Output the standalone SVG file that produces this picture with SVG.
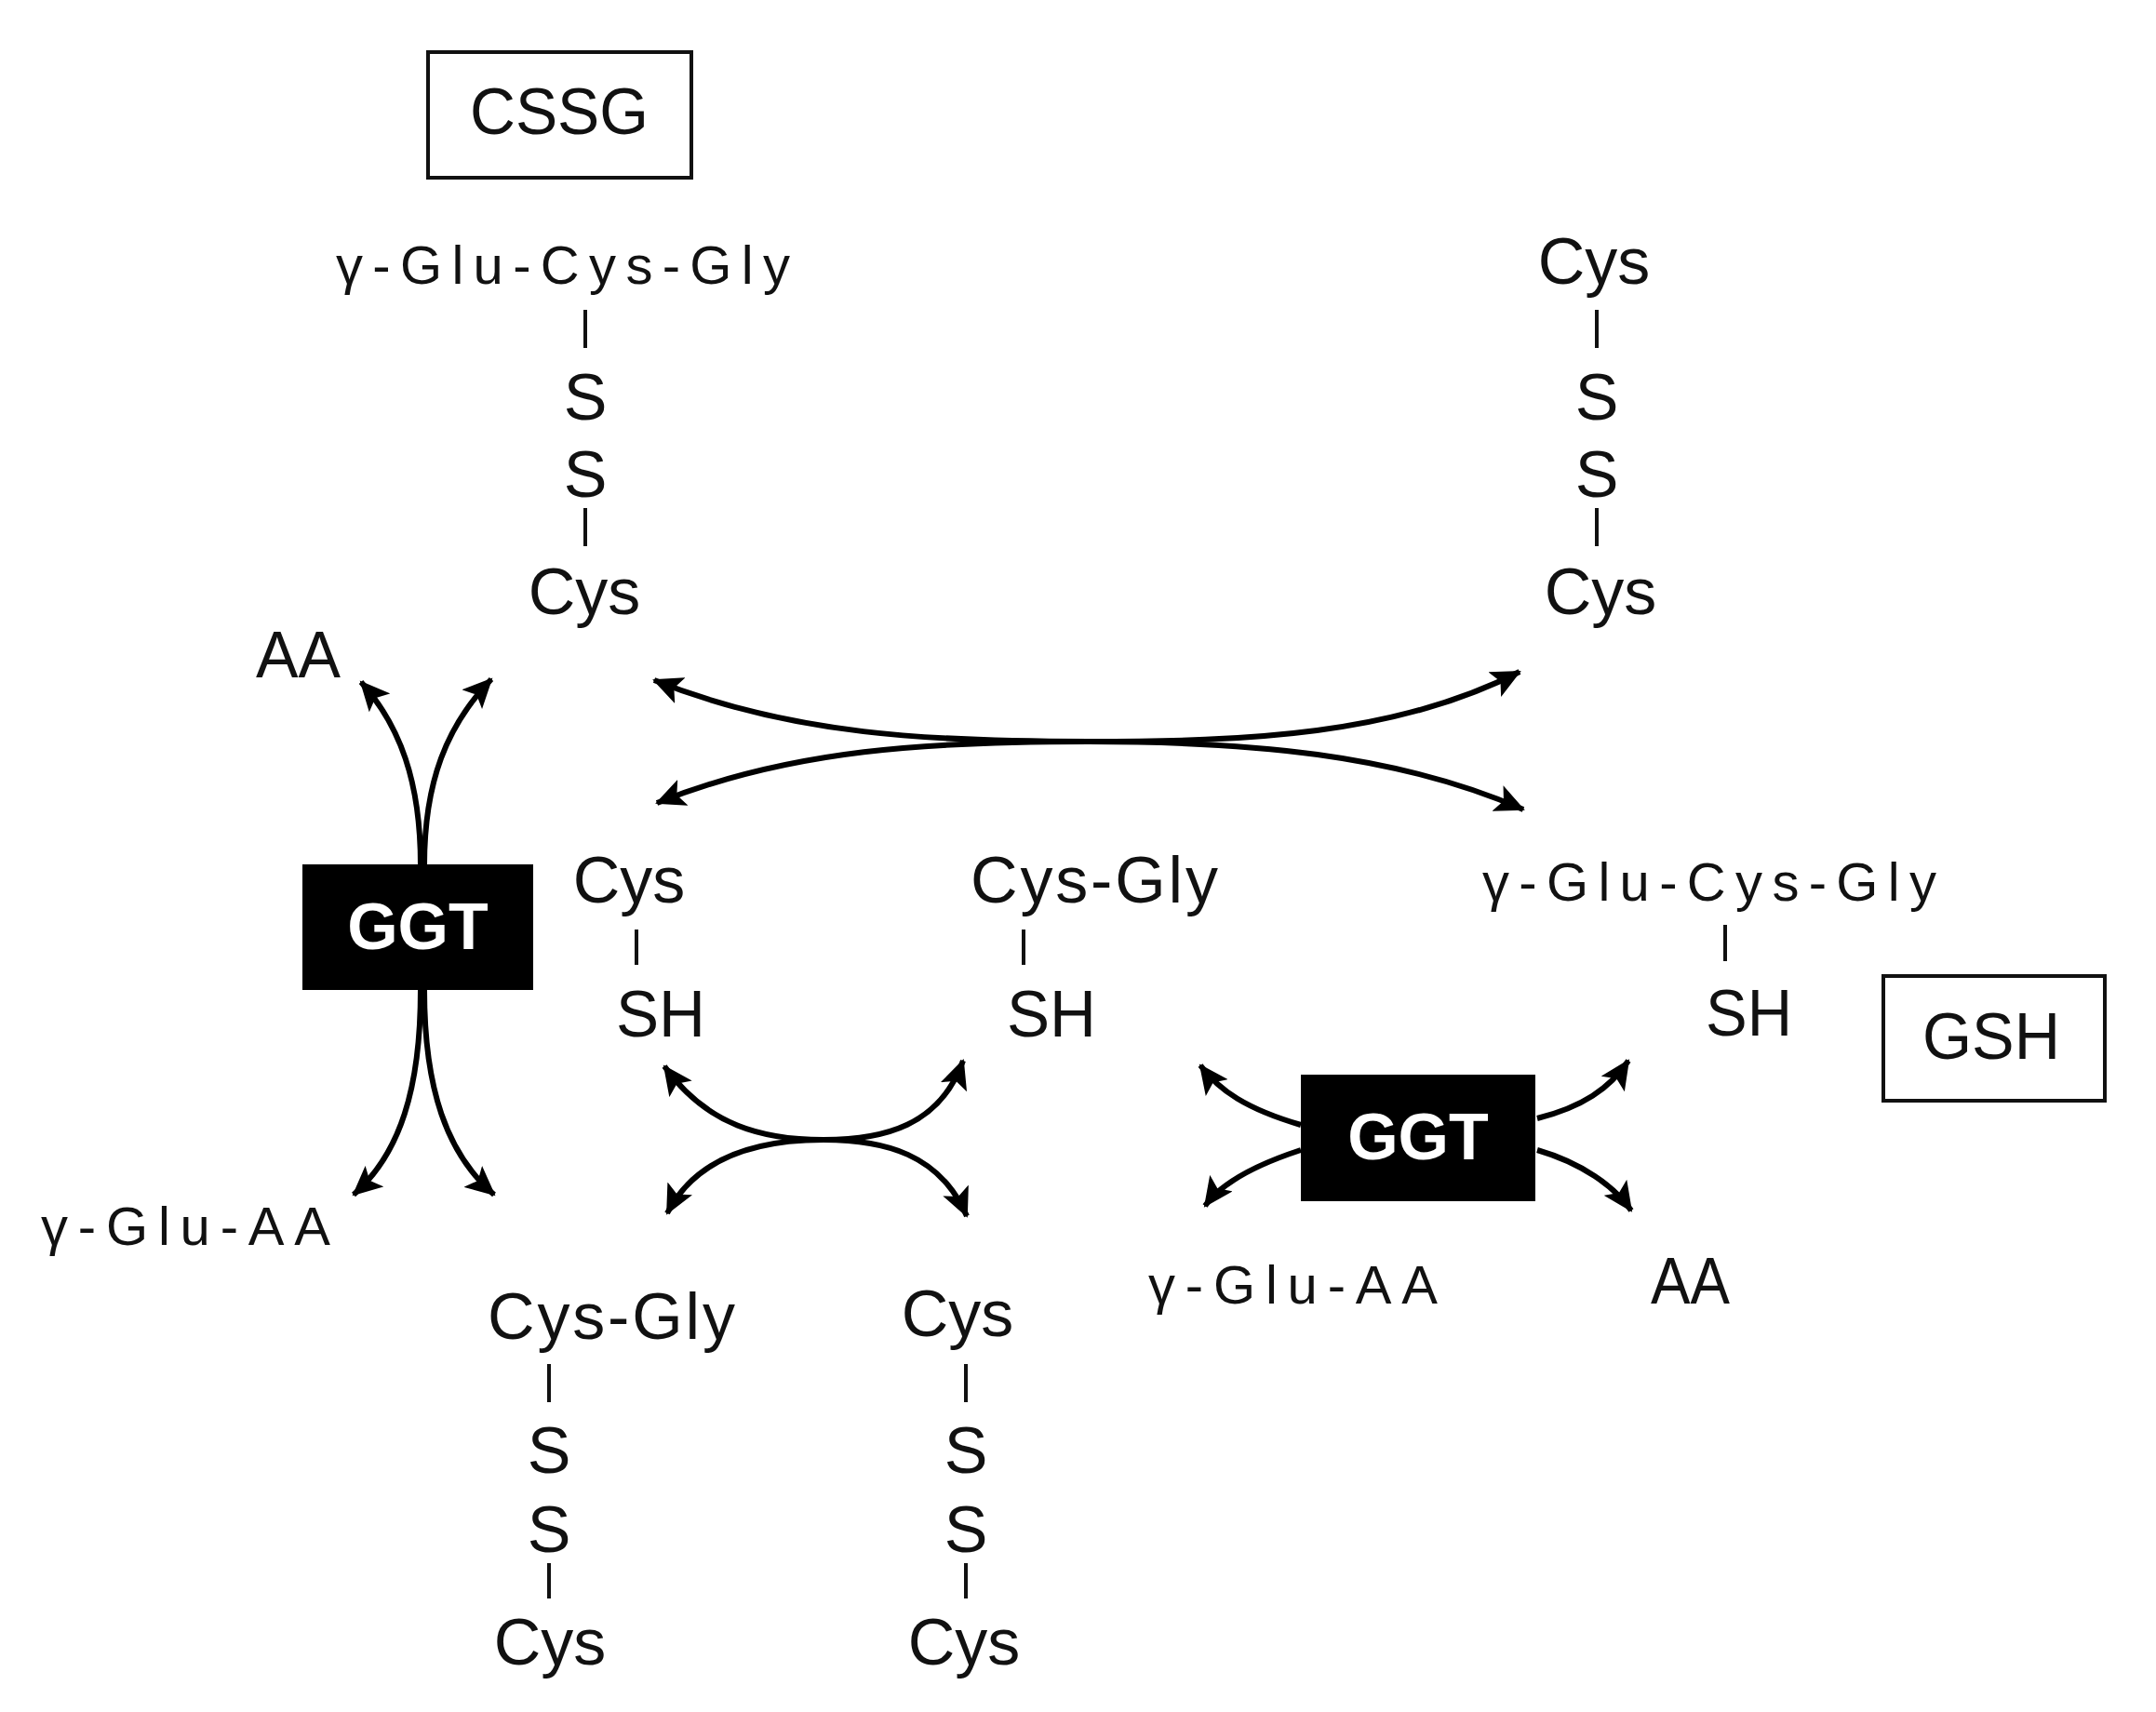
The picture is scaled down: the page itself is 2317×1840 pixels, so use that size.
<svg xmlns="http://www.w3.org/2000/svg" width="2317" height="1840" viewBox="0 0 2317 1840">
<style>
text{font-family:"Liberation Sans",Arial,sans-serif;fill:#111;font-size:70px}
.s{font-size:58px}
.g{font-family:"Liberation Sans",Arial,sans-serif;font-weight:bold;fill:#fff;font-size:70px}
.bar{stroke:#111;stroke-width:4}
.box{fill:#fff;stroke:#111;stroke-width:4}
.arr{fill:none;stroke:#000;stroke-width:6;marker-end:url(#ah)}
.dbl{fill:none;stroke:#000;stroke-width:6;marker-start:url(#ah);marker-end:url(#ah)}
</style>
<defs>
<marker id="ah" markerUnits="userSpaceOnUse" markerWidth="34" markerHeight="30" refX="30" refY="15" orient="auto-start-reverse">
<path d="M0,0 L32,15 L0,30 L7,15 Z" fill="#000"/>
</marker>
</defs>
<g id="cssg-label"><rect class="box" x="460" y="56" width="283" height="135"/><text x="601" y="144" text-anchor="middle" font-size="74" textLength="192" lengthAdjust="spacingAndGlyphs">CSSG</text></g>
<g id="cssg">
<text class="s" x="361" y="305" textLength="488" lengthAdjust="spacing">γ-Glu-Cys-Gly</text>
<line class="bar" x1="629" y1="333" x2="629" y2="374"/>
<text x="629" y="451" text-anchor="middle">S</text>
<text x="629" y="534" text-anchor="middle">S</text>
<line class="bar" x1="629" y1="546" x2="629" y2="587"/>
<text x="628" y="660" text-anchor="middle">Cys</text>
</g>
<g id="cystine-top">
<text x="1713" y="305" text-anchor="middle">Cys</text>
<line class="bar" x1="1716" y1="333" x2="1716" y2="374"/>
<text x="1716" y="451" text-anchor="middle">S</text>
<text x="1716" y="534" text-anchor="middle">S</text>
<line class="bar" x1="1716" y1="546" x2="1716" y2="587"/>
<text x="1720" y="660" text-anchor="middle">Cys</text>
</g>
<g id="aa-left"><text x="275" y="728" textLength="91" lengthAdjust="spacingAndGlyphs">AA</text></g>
<g id="ggt-left"><rect x="325" y="929" width="248" height="135" fill="#000"/><text class="g" x="449" y="1020" text-anchor="middle">GGT</text></g>
<g id="gluaa-left"><text class="s" x="44" y="1338" textLength="311" lengthAdjust="spacing">γ-Glu-AA</text></g>
<g id="cys-sh">
<text x="676" y="970" text-anchor="middle">Cys</text>
<line class="bar" x1="684" y1="999" x2="684" y2="1037"/>
<text x="662" y="1114" textLength="96" lengthAdjust="spacingAndGlyphs">SH</text>
</g>
<g id="cysgly-sh">
<text x="1043" y="970" textLength="266" lengthAdjust="spacing">Cys-Gly</text>
<line class="bar" x1="1100" y1="999" x2="1100" y2="1037"/>
<text x="1082" y="1114" textLength="96" lengthAdjust="spacingAndGlyphs">SH</text>
</g>
<g id="gsh">
<text class="s" x="1593" y="968" textLength="488" lengthAdjust="spacing">γ-Glu-Cys-Gly</text>
<line class="bar" x1="1854" y1="994" x2="1854" y2="1033"/>
<text x="1833" y="1113" textLength="93" lengthAdjust="spacingAndGlyphs">SH</text>
</g>
<g id="gsh-label"><rect class="box" x="2024" y="1049" width="238" height="134"/><text x="2140" y="1138" text-anchor="middle" textLength="148" lengthAdjust="spacingAndGlyphs">GSH</text></g>
<g id="ggt-right"><rect x="1398" y="1155" width="252" height="136" fill="#000"/><text class="g" x="1524" y="1246" text-anchor="middle">GGT</text></g>
<g id="gluaa-right"><text class="s" x="1234" y="1401" textLength="311" lengthAdjust="spacing">γ-Glu-AA</text></g>
<g id="aa-right"><text x="1774" y="1401" textLength="85" lengthAdjust="spacingAndGlyphs">AA</text></g>
<g id="cysgly-cys">
<text x="524" y="1439" textLength="266" lengthAdjust="spacing">Cys-Gly</text>
<line class="bar" x1="590" y1="1466" x2="590" y2="1507"/>
<text x="590" y="1583" text-anchor="middle">S</text>
<text x="590" y="1668" text-anchor="middle">S</text>
<line class="bar" x1="590" y1="1680" x2="590" y2="1718"/>
<text x="591" y="1789" text-anchor="middle">Cys</text>
</g>
<g id="cystine-bottom">
<text x="1029" y="1436" text-anchor="middle">Cys</text>
<line class="bar" x1="1038" y1="1466" x2="1038" y2="1507"/>
<text x="1038" y="1583" text-anchor="middle">S</text>
<text x="1038" y="1668" text-anchor="middle">S</text>
<line class="bar" x1="1038" y1="1680" x2="1038" y2="1718"/>
<text x="1036" y="1789" text-anchor="middle">Cys</text>
</g>
<g id="connectors">
<path class="arr" d="M452,930 C452,840 430,780 388,733"/>
<path class="arr" d="M456,930 C456,840 480,780 528,730"/>
<path class="arr" d="M452,1064 C452,1170 430,1240 380,1284"/>
<path class="arr" d="M456,1064 C456,1170 480,1240 531,1284"/>
<path class="dbl" d="M703,731 C850,790 1000,797 1170,797 C1340,797 1500,810 1637,870"/>
<path class="dbl" d="M706,863 C850,805 1000,797 1170,797 C1340,797 1500,790 1633,722"/>
<path class="dbl" d="M714,1146 C760,1210 820,1225 885,1225 C950,1225 1010,1240 1039,1307"/>
<path class="dbl" d="M717,1304 C750,1240 820,1225 885,1225 C950,1225 1010,1210 1035,1140"/>
<path class="arr" d="M1398,1209 C1340,1192 1310,1172 1290,1145"/>
<path class="arr" d="M1398,1236 C1340,1255 1310,1275 1295,1296"/>
<path class="arr" d="M1652,1202 C1700,1190 1730,1170 1750,1140"/>
<path class="arr" d="M1652,1236 C1700,1250 1735,1275 1753,1301"/>
</g>
</svg>
